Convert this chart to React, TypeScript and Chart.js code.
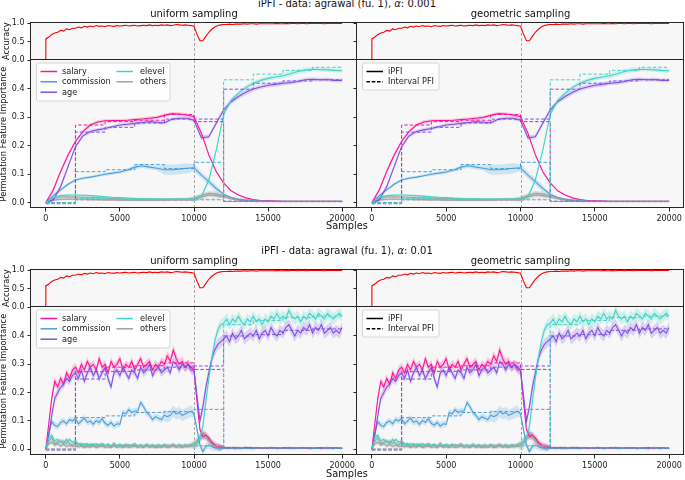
import React, { useEffect, useRef } from "react";
import { Chart, registerables } from "chart.js";

Chart.register(...registerables);

// ---------------- data ----------------
const FEATURES = ["salary", "commission", "age", "elevel", "others"];
const FEATURE_COLORS = ["#ff1493", "#47a0dc", "#7f4fe6", "#40d4c8", "#a0a0a0"];
const STYLE_LABELS = ["iPFI", "Interval PFI"];
const COLUMN_TITLES = ["uniform sampling", "geometric sampling"];
const FIG_TITLES = ["iPFI - data: agrawal (fu. 1), ", "iPFI - data: agrawal (fu. 1), "];
const FIG_ALPHAS = ["0.001", "0.01"];
const X_TICKS = [0, 5000, 10000, 15000, 20000];
const ACC_TICKS = [0, 0.5, 1.0];
const PFI_TICKS = [0, 0.1, 0.2, 0.3, 0.4];
const DRIFT_AT = 10000;
const INTERVAL_EDGES = [0, 2000, 4000, 6000, 8000, 10000, 12000, 14000, 16000, 18000, 20000];

// accuracy (step 200 samples), same run for all panels
const ACC_STEP = 200;
const ACCURACY_START = 0.0;
const ACCURACY = [
  0.57, 0.62, 0.69, 0.73, 0.75, 0.8, 0.78, 0.84, 0.82, 0.86, 0.86, 0.89, 0.87, 0.91, 0.89, 0.92, 0.9, 0.93, 0.91, 0.92, 0.9,
  0.93, 0.92, 0.91, 0.93, 0.92, 0.93, 0.94, 0.92, 0.93, 0.94, 0.92, 0.93, 0.94, 0.93, 0.95, 0.93, 0.94, 0.93, 0.95, 0.94,
  0.95, 0.93, 0.94, 0.96, 0.95, 0.94, 0.95, 0.94, 0.93, 0.91,
  0.7, 0.52, 0.52, 0.64, 0.75, 0.83, 0.89, 0.93, 0.95, 0.96,
  0.96, 0.97, 0.96, 0.97, 0.97, 0.97, 0.98, 0.97, 0.98, 0.98, 0.97, 0.98, 0.98, 0.98, 0.98, 0.98, 0.98, 0.99, 0.98, 0.98,
  0.99, 0.98, 0.99, 0.99, 0.98, 0.99, 0.99, 0.98, 0.99, 0.99, 0.99, 0.99, 0.99, 0.98, 0.99, 0.99, 0.99, 0.99, 0.99, 0.99,
];

// ---- top figure (alpha 0.001), step 500 samples ----
const STEP_TOP = 500;
const SALARY_T = [
  0, 0.045, 0.11, 0.168, 0.215, 0.25, 0.273, 0.284, 0.288, 0.289, 0.289, 0.29, 0.292, 0.294, 0.297, 0.3, 0.307, 0.313, 0.312, 0.308, 0.302,
  0.244, 0.168, 0.109, 0.07, 0.042, 0.027, 0.017, 0.011, 0.008, 0.007, 0.006, 0.005, 0.005, 0.005, 0.005, 0.005, 0.005, 0.005, 0.005, 0.005,
];
const COMMISSION_T = [
  0, 0.025, 0.045, 0.065, 0.08, 0.086, 0.09, 0.095, 0.1, 0.104, 0.108, 0.115, 0.125, 0.13, 0.125, 0.121, 0.116, 0.116, 0.118, 0.121, 0.123,
  0.097, 0.074, 0.05, 0.03, 0.018, 0.011, 0.008, 0.007, 0.006, 0.005, 0.005, 0.005, 0.005, 0.005, 0.005, 0.005, 0.005, 0.005, 0.005, 0.005,
];
const AGE_T = [
  0, 0.01, 0.056, 0.127, 0.197, 0.235, 0.25, 0.256, 0.261, 0.267, 0.273, 0.276, 0.279, 0.282, 0.285, 0.283, 0.281, 0.293, 0.297, 0.297, 0.29,
  0.228, 0.232, 0.279, 0.326, 0.355, 0.373, 0.388, 0.4, 0.407, 0.413, 0.416, 0.42, 0.422, 0.426, 0.432, 0.434, 0.432, 0.433, 0.43, 0.43,
];
const ELEVEL_T = [
  0, 0.019, 0.025, 0.027, 0.027, 0.026, 0.025, 0.023, 0.021, 0.019, 0.018, 0.016, 0.015, 0.014, 0.014, 0.013, 0.013, 0.013, 0.013, 0.013, 0.014,
  0.021, 0.08, 0.185, 0.31, 0.36, 0.385, 0.405, 0.42, 0.43, 0.437, 0.442, 0.446, 0.453, 0.461, 0.466, 0.469, 0.468, 0.467, 0.465, 0.464,
];
const OTHERS_T1 = [
  0, 0.014, 0.02, 0.021, 0.02, 0.019, 0.018, 0.017, 0.016, 0.015, 0.014, 0.013, 0.013, 0.012, 0.012, 0.012, 0.012, 0.012, 0.013, 0.013, 0.015,
  0.025, 0.033, 0.031, 0.025, 0.018, 0.013, 0.01, 0.008, 0.007, 0.006, 0.006, 0.005, 0.005, 0.005, 0.005, 0.005, 0.005, 0.005, 0.005, 0.005,
];
const OTHERS_T2 = [
  0, 0.009, 0.012, 0.013, 0.012, 0.012, 0.011, 0.011, 0.01, 0.01, 0.009, 0.009, 0.009, 0.009, 0.009, 0.009, 0.009, 0.01, 0.01, 0.01, 0.011,
  0.02, 0.027, 0.025, 0.019, 0.013, 0.009, 0.007, 0.006, 0.005, 0.005, 0.004, 0.004, 0.004, 0.004, 0.004, 0.004, 0.004, 0.004, 0.004, 0.004,
];
// confidence band half-widths per 2000-sample window
const BAND_T_SALARY = [0.008, 0.006, 0.005, 0.006, 0.006, 0.005, 0.002, 0.001, 0.001, 0.001];
const BAND_T_COMMISSION = [0.005, 0.005, 0.006, 0.008, 0.018, 0.012, 0.003, 0.001, 0.001, 0.001];
const BAND_T_AGE = [0.008, 0.007, 0.006, 0.007, 0.006, 0.008, 0.009, 0.008, 0.007, 0.007];
const BAND_T_ELEVEL = [0.003, 0.003, 0.003, 0.003, 0.003, 0.008, 0.008, 0.008, 0.009, 0.007];
const BAND_T_OTHERS = [0.004, 0.004, 0.004, 0.004, 0.004, 0.008, 0.003, 0.002, 0.002, 0.002];
// interval PFI per 2000-sample window
const INT_T_SALARY = [0, 0.273, 0.285, 0.29, 0.31, 0.285, 0.005, 0.004, 0.004, 0.004];
const INT_T_COMMISSION = [0, 0.109, 0.116, 0.134, 0.12, 0.142, 0.005, 0.004, 0.004, 0.004];
const INT_T_AGE = [0, 0.248, 0.265, 0.28, 0.294, 0.294, 0.399, 0.42, 0.428, 0.432];
const INT_T_ELEVEL = [0, 0.015, 0.013, 0.012, 0.012, 0.012, 0.432, 0.452, 0.465, 0.476];
const INT_T_OTHERS = [-0.004, 0.01, 0.01, 0.009, 0.009, 0.01, 0.004, 0.004, 0.004, 0.004];

// ---- bottom figure (alpha 0.01), step 200 samples ----
const STEP_BOTTOM = 200;
const SALARY_B = [
  0, 0.09, 0.18, 0.24, 0.22, 0.25, 0.23, 0.27, 0.25, 0.28, 0.29,
  0.27, 0.3, 0.28, 0.31, 0.29, 0.3, 0.28, 0.32, 0.29, 0.3,
  0.27, 0.31, 0.29, 0.3, 0.32, 0.28, 0.3, 0.29, 0.31, 0.28,
  0.3, 0.32, 0.29, 0.3, 0.31, 0.28, 0.3, 0.29, 0.31, 0.3,
  0.33, 0.31, 0.35, 0.32, 0.3, 0.31, 0.29, 0.3, 0.29, 0.28,
  0.17, 0.07, 0.045, 0.05, 0.04, 0.025, 0.015, 0.01, 0.008, 0.006,
  0.005, 0.004, 0.006, 0.004, 0.005, 0.003, 0.005, 0.006, 0.004, 0.005,
  0.004, 0.006, 0.003, 0.005, 0.004, 0.006, 0.005, 0.004, 0.003, 0.005,
  0.006, 0.004, 0.005, 0.003, 0.004, 0.006, 0.005, 0.004, 0.005, 0.003,
  0.004, 0.005, 0.006, 0.004, 0.003, 0.005, 0.004, 0.005, 0.003, 0.004,
];
const COMMISSION_B = [
  0, 0.056, 0.098, 0.085, 0.08, 0.095, 0.1, 0.09, 0.105, 0.1, 0.109,
  0.09, 0.1, 0.11, 0.095, 0.1, 0.088, 0.102, 0.095, 0.108, 0.092,
  0.085, 0.095, 0.082, 0.09, 0.088, 0.13, 0.125, 0.14, 0.13, 0.135,
  0.135, 0.165, 0.15, 0.13, 0.12, 0.105, 0.115, 0.11, 0.105, 0.12,
  0.115, 0.12, 0.135, 0.125, 0.13, 0.12, 0.125, 0.13, 0.135, 0.125,
  0.07, 0.015, -0.008, 0.01, 0.015, 0.009, 0.006, 0.005, 0.004, 0.004,
  0.003, 0.005, 0.004, 0.002, 0.004, 0.003, 0.005, 0.003, 0.004, 0.002,
  0.004, 0.003, 0.005, 0.004, 0.006, 0.003, 0.004, 0.002, 0.004, 0.003,
  0.004, 0.003, 0.002, 0.004, 0.003, 0.005, 0.003, 0.004, 0.002, 0.003,
  0.004, 0.003, 0.002, 0.003, 0.004, 0.003, 0.002, 0.004, 0.003, 0.003,
];
const AGE_B = [
  0, 0.05, 0.12, 0.18, 0.2, 0.22, 0.23, 0.25, 0.24, 0.26, 0.27,
  0.25, 0.28, 0.24, 0.27, 0.29, 0.26, 0.28, 0.25, 0.27, 0.29,
  0.25, 0.22, 0.27, 0.28, 0.26, 0.29, 0.27, 0.25, 0.28, 0.27,
  0.25, 0.29, 0.27, 0.28, 0.3, 0.26, 0.28, 0.29, 0.27, 0.28,
  0.29, 0.27, 0.31, 0.3, 0.28, 0.3, 0.29, 0.3, 0.28, 0.28,
  0.19, 0.1, 0.15, 0.22, 0.27, 0.32, 0.35, 0.37, 0.38, 0.39,
  0.4, 0.38, 0.41, 0.39, 0.4, 0.42, 0.39, 0.4, 0.41, 0.4,
  0.42, 0.39, 0.41, 0.42, 0.4, 0.43, 0.41, 0.4, 0.42, 0.41,
  0.43, 0.44, 0.42, 0.4, 0.42, 0.41, 0.43, 0.42, 0.44, 0.41,
  0.43, 0.42, 0.44, 0.41, 0.42, 0.43, 0.41, 0.42, 0.41, 0.43,
];
const ELEVEL_B = [
  0, 0.04, 0.05, 0.03, 0.035, 0.025, 0.03, 0.02, 0.035, 0.025, 0.03,
  0.02, 0.015, 0.02, 0.012, 0.018, 0.014, 0.02, 0.012, 0.016, 0.013,
  0.018, 0.012, 0.015, 0.01, 0.017, 0.013, 0.011, 0.016, 0.012, 0.014,
  0.01, 0.015, 0.012, 0.017, 0.011, 0.014, 0.012, 0.016, 0.01, 0.013,
  0.015, 0.011, 0.014, 0.012, 0.016, 0.013, 0.011, 0.015, 0.013, 0.015,
  0.02, 0.04, 0.08, 0.17, 0.25, 0.32, 0.38, 0.42, 0.44, 0.445,
  0.46, 0.44, 0.46, 0.45, 0.47, 0.45, 0.44, 0.46, 0.45, 0.47,
  0.45, 0.46, 0.44, 0.46, 0.45, 0.47, 0.46, 0.48, 0.46, 0.47,
  0.46, 0.49, 0.47, 0.46, 0.47, 0.45, 0.47, 0.46, 0.48, 0.47,
  0.46, 0.48, 0.47, 0.46, 0.48, 0.47, 0.46, 0.47, 0.48, 0.47,
];
const OTHERS_B1 = [
  0, 0.03, 0.04, 0.02, 0.025, 0.03, 0.02, 0.035, 0.02, 0.015, 0.025,
  0.015, 0.02, 0.01, 0.02, 0.012, 0.018, 0.01, 0.015, 0.02, 0.012,
  0.016, 0.01, 0.022, 0.012, 0.015, 0.01, 0.018, 0.012, 0.014, 0.02,
  0.012, 0.015, 0.01, 0.018, 0.012, 0.016, 0.01, 0.015, 0.012, 0.017,
  0.01, 0.014, 0.018, 0.012, 0.015, 0.011, 0.016, 0.013, 0.018, 0.02,
  0.03, 0.045, 0.06, 0.05, 0.035, 0.022, 0.014, 0.009, 0.007, 0.006,
  0.005, 0.006, 0.004, 0.007, 0.005, 0.004, 0.006, 0.005, 0.007, 0.004,
  0.006, 0.005, 0.004, 0.006, 0.005, 0.007, 0.004, 0.005, 0.006, 0.004,
  0.005, 0.007, 0.004, 0.006, 0.005, 0.004, 0.006, 0.005, 0.004, 0.006,
  0.005, 0.004, 0.006, 0.005, 0.007, 0.004, 0.005, 0.006, 0.004, 0.005,
];
const OTHERS_B2 = [
  0, 0.02, 0.025, 0.015, 0.02, 0.012, 0.018, 0.01, 0.015, 0.01, 0.012,
  0.008, 0.011, 0.006, 0.01, 0.007, 0.012, 0.006, 0.009, 0.011, 0.007,
  0.009, 0.006, 0.012, 0.007, 0.009, 0.006, 0.01, 0.007, 0.008, 0.011,
  0.007, 0.009, 0.006, 0.011, 0.007, 0.009, 0.006, 0.008, 0.007, 0.01,
  0.006, 0.008, 0.011, 0.007, 0.009, 0.006, 0.01, 0.008, 0.011, 0.012,
  0.02, 0.035, 0.045, 0.04, 0.028, 0.018, 0.01, 0.007, 0.005, 0.005,
  0.004, 0.003, 0.005, 0.004, 0.003, 0.004, 0.005, 0.003, 0.004, 0.003,
  0.004, 0.005, 0.003, 0.004, 0.003, 0.005, 0.004, 0.003, 0.004, 0.005,
  0.003, 0.004, 0.005, 0.003, 0.004, 0.003, 0.004, 0.005, 0.003, 0.004,
  0.004, 0.003, 0.004, 0.005, 0.003, 0.004, 0.003, 0.004, 0.005, 0.003,
];
const BAND_B_SALARY = [0.015, 0.015, 0.015, 0.015, 0.018, 0.012, 0.004, 0.003, 0.003, 0.003];
const BAND_B_COMMISSION = [0.012, 0.012, 0.012, 0.012, 0.02, 0.012, 0.004, 0.003, 0.003, 0.003];
const BAND_B_AGE = [0.015, 0.015, 0.015, 0.015, 0.015, 0.02, 0.02, 0.02, 0.02, 0.02];
const BAND_B_ELEVEL = [0.008, 0.006, 0.006, 0.006, 0.006, 0.02, 0.02, 0.02, 0.02, 0.02];
const BAND_B_OTHERS = [0.008, 0.006, 0.006, 0.006, 0.006, 0.01, 0.004, 0.003, 0.003, 0.003];
const INT_B_SALARY = [0, 0.274, 0.29, 0.295, 0.305, 0.282, 0.005, 0.004, 0.004, 0.004];
const INT_B_COMMISSION = [0, 0.112, 0.118, 0.13, 0.133, 0.141, 0.004, 0.004, 0.004, 0.004];
const INT_B_AGE = [0, 0.248, 0.275, 0.28, 0.29, 0.294, 0.4, 0.405, 0.42, 0.425];
const INT_B_ELEVEL = [0, 0.018, 0.015, 0.014, 0.014, 0.013, 0.44, 0.455, 0.465, 0.47];
const INT_B_OTHERS = [-0.004, 0.012, 0.012, 0.011, 0.011, 0.012, 0.004, 0.004, 0.004, 0.004];

// ---------------- style / layout ----------------
const FONT = '"DejaVu Sans", sans-serif';
const TEXT = "#1a1a1a";
const SPINE = "#262626";
const BG = "#f7f7f7";
const ACC_COLOR = "#ff0000";
const DRIFT_COLOR = "#a8a8a8";
const Y_AXIS_W = 31;
const X_AXIS_H = 22;
const PAD_T = 8;

type FigData = {
  step: number;
  lines: number[][];
  lineFeature: number[];
  bands: number[][];
  intervals: number[][];
  yMin: number;
  yMax: number;
};

// draw order: others (gray) first, then salary, commission, age, elevel
const FIG_TOP: FigData = {
  step: STEP_TOP,
  lines: [OTHERS_T1, OTHERS_T2, SALARY_T, COMMISSION_T, AGE_T, ELEVEL_T],
  lineFeature: [4, 4, 0, 1, 2, 3],
  bands: [BAND_T_OTHERS, BAND_T_OTHERS, BAND_T_SALARY, BAND_T_COMMISSION, BAND_T_AGE, BAND_T_ELEVEL],
  intervals: [INT_T_SALARY, INT_T_COMMISSION, INT_T_AGE, INT_T_ELEVEL, INT_T_OTHERS],
  yMin: -0.0186,
  yMax: 0.5016,
};
const FIG_BOTTOM: FigData = {
  step: STEP_BOTTOM,
  lines: [OTHERS_B1, OTHERS_B2, SALARY_B, COMMISSION_B, AGE_B, ELEVEL_B],
  lineFeature: [4, 4, 0, 1, 2, 3],
  bands: [BAND_B_OTHERS, BAND_B_OTHERS, BAND_B_SALARY, BAND_B_COMMISSION, BAND_B_AGE, BAND_B_ELEVEL],
  intervals: [INT_B_SALARY, INT_B_COMMISSION, INT_B_AGE, INT_B_ELEVEL, INT_B_OTHERS],
  yMin: -0.0201,
  yMax: 0.5023,
};

const FIG_LAYOUT = [
  { accTop: 23, split: 60, pfiBottom: 208, titleBase: 7.3, colTitleBase: 17.3, xlabelBase: 229.5, data: FIG_TOP },
  { accTop: 270, split: 307, pfiBottom: 455, titleBase: 254, colTitleBase: 264.5, xlabelBase: 477.5, data: FIG_BOTTOM },
];
const COLUMNS = [
  { left: 31, right: 357, showY: true, legend: "features", padR: 4 },
  { left: 357, right: 684, showY: false, legend: "style", padR: 1 },
];

// ---------------- helpers ----------------
function rgba(hex: string, a: number) {
  const n = parseInt(hex.slice(1), 16);
  return `rgba(${(n >> 16) & 255},${(n >> 8) & 255},${n & 255},${a})`;
}
function windowIndex(x: number) {
  for (let k = 0; k < INTERVAL_EDGES.length - 1; k++) {
    if (x < INTERVAL_EDGES[k + 1]) return k;
  }
  return INTERVAL_EDGES.length - 2;
}
function stepPoints(vals: number[]) {
  const pts: { x: number; y: number }[] = [];
  vals.forEach((v, k) => {
    pts.push({ x: INTERVAL_EDGES[k], y: v });
    pts.push({ x: INTERVAL_EDGES[k + 1], y: v });
  });
  return pts;
}

function pfiDatasets(fig: FigData) {
  const ds: any[] = [];
  fig.lines.forEach((vals, li) => {
    const color = FEATURE_COLORS[fig.lineFeature[li]];
    const pts = vals.map((v, i) => ({ x: i * fig.step, y: v }));
    const w = fig.bands[li];
    ds.push({
      data: pts.map((p) => ({ x: p.x, y: p.y - w[windowIndex(p.x)] })),
      borderColor: "rgba(0,0,0,0)",
      borderWidth: 0,
      pointRadius: 0,
      fill: false,
    });
    ds.push({
      data: pts.map((p) => ({ x: p.x, y: p.y + w[windowIndex(p.x)] })),
      borderColor: "rgba(0,0,0,0)",
      borderWidth: 0,
      pointRadius: 0,
      fill: "-1",
      backgroundColor: rgba(color, fig.lineFeature[li] === 4 ? 0.3 : 0.22),
    });
  });
  fig.lines.forEach((vals, li) => {
    const color = FEATURE_COLORS[fig.lineFeature[li]];
    ds.push({
      data: vals.map((v, i) => ({ x: i * fig.step, y: v })),
      borderColor: color,
      borderWidth: 1.1,
      pointRadius: 0,
      fill: false,
    });
  });
  const dashOrder = [4, 0, 1, 2, 3];
  dashOrder.forEach((f) => {
    ds.push({
      data: stepPoints(fig.intervals[f]),
      borderColor: FEATURE_COLORS[f],
      borderWidth: 1,
      borderDash: [3.5, 2],
      pointRadius: 0,
      fill: false,
    });
  });
  const n = ds.length;
  ds.forEach((d, i) => (d.order = n - i));
  return ds;
}

function accDatasets() {
  const pts = [{ x: 0, y: ACCURACY_START }, ...ACCURACY.map((v, i) => ({ x: i * ACC_STEP, y: v }))];
  return [{ data: pts, borderColor: ACC_COLOR, borderWidth: 1.1, pointRadius: 0, fill: false }];
}

function drawLegend(ctx: CanvasRenderingContext2D, a: any, kind: string) {
  const x0 = a.left + 5.5;
  const y0 = a.top + 3;
  const w = kind === "features" ? 133.5 : 76.5;
  const h = kind === "features" ? 38 : 27;
  const r = 2;
  ctx.save();
  ctx.beginPath();
  ctx.moveTo(x0 + r, y0);
  ctx.lineTo(x0 + w - r, y0);
  ctx.arcTo(x0 + w, y0, x0 + w, y0 + r, r);
  ctx.lineTo(x0 + w, y0 + h - r);
  ctx.arcTo(x0 + w, y0 + h, x0 + w - r, y0 + h, r);
  ctx.lineTo(x0 + r, y0 + h);
  ctx.arcTo(x0, y0 + h, x0, y0 + h - r, r);
  ctx.lineTo(x0, y0 + r);
  ctx.arcTo(x0, y0, x0 + r, y0, r);
  ctx.closePath();
  ctx.fillStyle = "rgba(255,255,255,0.8)";
  ctx.fill();
  ctx.strokeStyle = "#cccccc";
  ctx.lineWidth = 0.8;
  ctx.stroke();

  ctx.font = `8.2px ${FONT}`;
  ctx.textBaseline = "middle";
  ctx.textAlign = "left";
  const rowY = [8.5, 18.8, 29.2];
  const entry = (col: number, row: number, label: string, color: string, dash: number[]) => {
    const hx = col === 0 ? a.left + 9.5 : a.left + 85.5;
    const tx = col === 0 ? a.left + 31 : a.left + 109;
    const y = y0 + rowY[row];
    ctx.beginPath();
    ctx.setLineDash(dash);
    ctx.strokeStyle = color;
    ctx.lineWidth = 1.5;
    ctx.moveTo(hx, y);
    ctx.lineTo(hx + 16.5, y);
    ctx.stroke();
    ctx.setLineDash([]);
    ctx.fillStyle = TEXT;
    ctx.fillText(label, tx, y + 0.5);
  };
  if (kind === "features") {
    FEATURES.forEach((f, i) => {
      const col = i < 3 ? 0 : 1;
      const row = i < 3 ? i : i - 3;
      entry(col, row, f, FEATURE_COLORS[i], []);
    });
  } else {
    entry(0, 0, STYLE_LABELS[0], "#000000", []);
    entry(0, 1, STYLE_LABELS[1], "#000000", [3.5, 1.8]);
  }
  ctx.restore();
}

type PanelSpec = {
  kind: "acc" | "pfi";
  left: number;
  right: number;
  top: number;
  bottom: number;
  showY: boolean;
  legend: string;
  padR: number;
  fig: FigData;
};

function Panel({ spec }: { spec: PanelSpec }) {
  const ref = useRef<HTMLCanvasElement | null>(null);
  const padB = spec.kind === "acc" ? 8 : 0;
  const cw = Y_AXIS_W + (spec.right - spec.left) + spec.padR;
  const ch = PAD_T + (spec.bottom - spec.top) + (spec.kind === "pfi" ? X_AXIS_H : padB);
  const cl = spec.left - Y_AXIS_W;
  const ct = spec.top - PAD_T;

  useEffect(() => {
    if (!ref.current) return;
    const isPfi = spec.kind === "pfi";
    const tickFont = { family: FONT, size: 8 };
    const panelPlugin = {
      id: "panelDeco",
      beforeDraw(chart: any) {
        const a = chart.chartArea;
        const c = chart.ctx;
        c.save();
        c.fillStyle = BG;
        c.fillRect(a.left, a.top, a.right - a.left, a.bottom - a.top);
        c.restore();
      },
      beforeDatasetsDraw(chart: any) {
        const a = chart.chartArea;
        const c = chart.ctx;
        const x = chart.scales.x.getPixelForValue(DRIFT_AT);
        c.save();
        c.strokeStyle = DRIFT_COLOR;
        c.lineWidth = 1;
        c.setLineDash([3, 2]);
        c.beginPath();
        c.moveTo(Math.round(x) + 0.5, a.top);
        c.lineTo(Math.round(x) + 0.5, a.bottom);
        c.stroke();
        c.restore();
      },
      afterDatasetsDraw(chart: any) {
        const a = chart.chartArea;
        const c = chart.ctx;
        if (isPfi) drawLegend(c, a, spec.legend);
        c.save();
        c.strokeStyle = SPINE;
        c.lineWidth = 1;
        c.strokeRect(a.left - 0.5, a.top - 0.5, a.right - a.left, a.bottom - a.top);
        c.restore();
      },
    };
    const chart = new Chart(ref.current, {
      type: "line",
      data: { datasets: isPfi ? pfiDatasets(spec.fig) : accDatasets() } as any,
      options: {
        animation: false,
        responsive: false,
        devicePixelRatio: 1,
        parsing: false,
        events: [],
        layout: { padding: { left: 0, top: PAD_T, right: spec.padR, bottom: padB } },
        plugins: {
          legend: { display: false },
          tooltip: { enabled: false },
          title: { display: false },
          filler: { propagate: false },
        } as any,
        elements: { point: { radius: 0 }, line: { tension: 0 } },
        scales: {
          x: {
            type: "linear",
            min: -1000,
            max: 21000,
            display: isPfi,
            afterBuildTicks: (s: any) => {
              s.ticks = X_TICKS.map((value) => ({ value }));
            },
            afterFit: (s: any) => {
              s.height = isPfi ? X_AXIS_H : 0;
            },
            grid: { drawOnChartArea: false, drawTicks: true, tickLength: 3.5, color: SPINE, lineWidth: 1 },
            border: { display: false },
            ticks: {
              font: tickFont,
              color: TEXT,
              padding: 3,
              maxRotation: 0,
              autoSkip: false,
              callback: (v: any) => String(v),
            },
          },
          y: {
            type: "linear",
            min: isPfi ? spec.fig.yMin : 0,
            max: isPfi ? spec.fig.yMax : 1,
            afterBuildTicks: (s: any) => {
              s.ticks = (isPfi ? PFI_TICKS : ACC_TICKS).map((value) => ({ value }));
            },
            afterFit: (s: any) => {
              s.width = Y_AXIS_W;
            },
            grid: { drawOnChartArea: false, drawTicks: true, tickLength: 3.5, color: SPINE, lineWidth: 1 },
            border: { display: false },
            ticks: {
              display: spec.showY,
              font: tickFont,
              color: TEXT,
              padding: 3,
              autoSkip: false,
              callback: (v: any) => Number(v).toFixed(1),
            },
          },
        },
      } as any,
      plugins: [panelPlugin],
    });
    return () => chart.destroy();
  }, []);

  return (
    <canvas
      ref={ref}
      width={cw}
      height={ch}
      style={{ position: "absolute", left: cl, top: ct, width: cw, height: ch }}
    />
  );
}

function HText({ cx, base, size, children }: { cx: number; base: number; size: number; children: any }) {
  return (
    <div
      style={{
        position: "absolute",
        left: cx - 250,
        width: 500,
        top: base - 0.846 * size,
        fontSize: size,
        lineHeight: `${size}px`,
        height: size,
        textAlign: "center",
        whiteSpace: "nowrap",
        fontFamily: FONT,
        color: "#111",
      }}
    >
      {children}
    </div>
  );
}

function VText({ cy, baseX, size, children }: { cy: number; baseX: number; size: number; children: any }) {
  const cx = baseX - 0.346 * size;
  return (
    <div
      style={{
        position: "absolute",
        left: cx - 100,
        width: 200,
        top: cy - size / 2,
        height: size,
        fontSize: size,
        lineHeight: `${size}px`,
        textAlign: "center",
        whiteSpace: "nowrap",
        fontFamily: FONT,
        color: "#111",
        transform: "rotate(-90deg)",
        transformOrigin: "50% 50%",
      }}
    >
      {children}
    </div>
  );
}

export default function App() {
  const panels: PanelSpec[] = [];
  FIG_LAYOUT.forEach((f) => {
    COLUMNS.forEach((c) => {
      panels.push({ kind: "acc", left: c.left, right: c.right, top: f.accTop, bottom: f.split, showY: c.showY, legend: c.legend, padR: c.padR, fig: f.data });
    });
    COLUMNS.forEach((c) => {
      panels.push({ kind: "pfi", left: c.left, right: c.right, top: f.split, bottom: f.pfiBottom, showY: c.showY, legend: c.legend, padR: c.padR, fig: f.data });
    });
  });
  return (
    <div style={{ position: "absolute", left: 0, top: 0, width: 685, height: 480, overflow: "hidden", background: "#ffffff" }}>
      {panels.map((p, i) => (
        <Panel key={i} spec={p} />
      ))}
      {FIG_LAYOUT.map((f, i) => (
        <React.Fragment key={"t" + i}>
          <HText cx={347} base={f.titleBase} size={10}>
            {FIG_TITLES[i]}
            <span style={{ fontStyle: "italic" }}>α</span>: {FIG_ALPHAS[i]}
          </HText>
          {COLUMNS.map((c, j) => (
            <HText key={j} cx={(c.left + c.right) / 2} base={f.colTitleBase} size={10}>
              {COLUMN_TITLES[j]}
            </HText>
          ))}
          <HText cx={347} base={f.xlabelBase} size={9.8}>
            Samples
          </HText>
          <VText cy={(f.accTop + f.split) / 2} baseX={9.3} size={8.3}>
            Accuracy
          </VText>
          <VText cy={(f.split + f.pfiBottom) / 2} baseX={5.8} size={8.3}>
            Permutation Feature Importance
          </VText>
        </React.Fragment>
      ))}
    </div>
  );
}
